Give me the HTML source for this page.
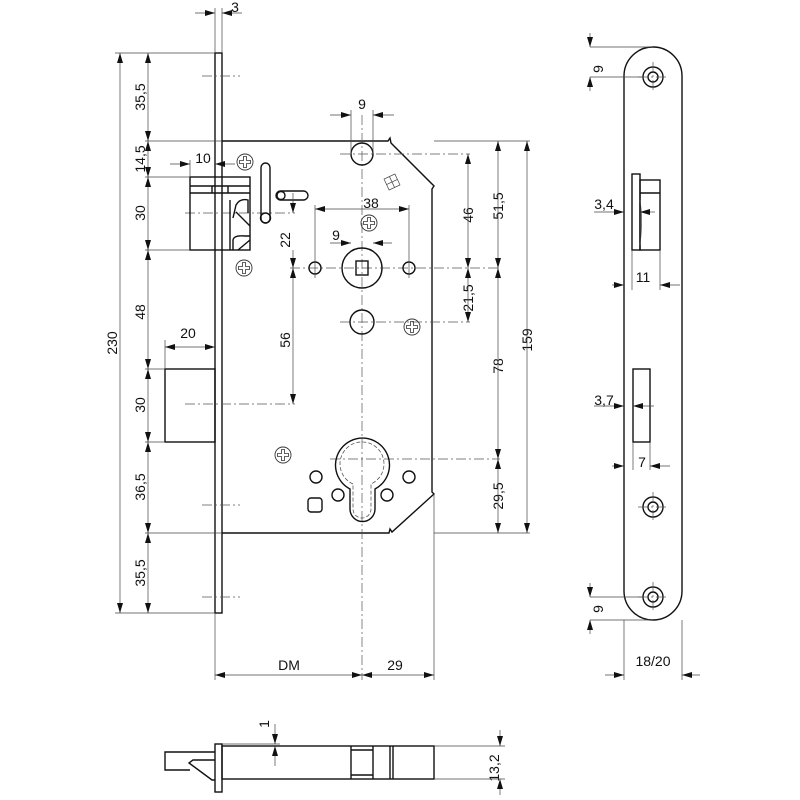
<!DOCTYPE html>
<html><head><meta charset="utf-8"><style>
html,body{margin:0;padding:0;background:#fff;width:800px;height:800px;overflow:hidden}
svg{display:block}
text{font-family:"Liberation Sans",sans-serif;font-size:14px;fill:#111}
.o{fill:none;stroke:#111;stroke-width:1.4}
.t{fill:none;stroke:#444;stroke-width:0.7}
.c{fill:none;stroke:#555;stroke-width:0.7;stroke-dasharray:10,3,2,3}
</style></head><body>
<svg width="800" height="800" viewBox="0 0 800 800">
<defs>
<marker id="a" viewBox="0 0 10 10" refX="10" refY="5" markerUnits="userSpaceOnUse" markerWidth="10" markerHeight="10" orient="auto-start-reverse"><path d="M0,2 L10,5 L0,8z" fill="#111"/></marker>
<g id="scr"><circle r="8" fill="none" stroke="#333" stroke-width="0.9"/><path d="M-1.5,-5.5h3v4h4v3h-4v4h-3v-4h-4v-3h4z" fill="none" stroke="#333" stroke-width="0.8"/></g>
</defs>

<rect x="215" y="53" width="7" height="560" class="o"/>
<path class="o" d="M222,141 H388 l2,-3 l1,5 L434,186 l-2,3 V492 l2,2 L392,532 l-2,-3 l-1,4 H222"/>
<line x1="362" y1="115" x2="362" y2="680" class="c"/>
<line x1="340" y1="154" x2="470" y2="154" class="c"/>
<line x1="290" y1="268" x2="500" y2="268" class="c"/>
<line x1="340" y1="322" x2="470" y2="322" class="c"/>
<line x1="330" y1="459" x2="500" y2="459" class="c"/>
<line x1="185" y1="404" x2="295" y2="404" class="c"/>
<line x1="185" y1="213" x2="295" y2="213" class="c"/>
<line x1="202" y1="76" x2="240" y2="76" class="c"/>
<line x1="202" y1="505" x2="240" y2="505" class="c"/>
<line x1="202" y1="597" x2="240" y2="597" class="c"/>

<rect x="190" y="177" width="60" height="73" class="o"/>
<line x1="190" y1="186" x2="250" y2="186" class="o"/>
<line x1="190" y1="193" x2="250" y2="193" class="o"/>
<line x1="212" y1="186" x2="212" y2="193" class="o"/>
<line x1="228" y1="186" x2="228" y2="193" class="o"/>
<line x1="230" y1="200" x2="230" y2="250" class="o"/>
<path class="o" d="M233,218 L236,205 Q240,198 248,200 V213 M236,212 L250,226"/>
<path class="o" d="M233,250 V240 Q234,235 245,236 L250,236 M238,250 L250,240"/>
<rect x="261" y="163" width="9" height="60" rx="4.5" class="o"/>
<circle cx="265.5" cy="218" r="5" class="o"/>
<rect x="276" y="191" width="32" height="9" rx="4.5" class="o"/>
<circle cx="281" cy="195.5" r="4" class="o"/>
<rect x="165" y="369" width="50" height="73" class="o"/>

<circle cx="362" cy="154" r="11" class="o"/>
<circle cx="362" cy="268" r="20" class="o"/>
<rect x="356" y="261" width="12" height="14" class="o"/>
<circle cx="315" cy="268" r="6" class="o"/>
<circle cx="409" cy="268" r="6" class="o"/>
<circle cx="362" cy="322" r="12" class="o"/>
<g transform="translate(392,182) rotate(-25)"><rect x="-6" y="-6" width="12" height="12" class="t"/><line x1="0" y1="-6" x2="0" y2="6" class="t"/><line x1="-6" y1="0" x2="6" y2="0" class="t"/></g>
<use href="#scr" x="245" y="162"/><use href="#scr" x="244" y="268"/><use href="#scr" x="369" y="223"/><use href="#scr" x="412" y="327"/><use href="#scr" x="283" y="455"/>
<path class="o" d="M350,489 A27,27 0 1 1 375,489 V509 A12.5,12.5 0 0 1 350,509 Z"/>
<path class="t" stroke-dasharray="4,2" d="M353,484 A22,22 0 1 1 371,484 V509 A9,9 0 0 1 353,509 Z"/>
<circle cx="316" cy="477" r="6" class="o"/><circle cx="409" cy="477" r="6" class="o"/>
<circle cx="338" cy="495" r="6" class="o"/><circle cx="387" cy="495" r="6" class="o"/>
<rect x="308" y="498" width="14" height="14" rx="3" class="o"/>

<g class="t">
<line x1="115" y1="53" x2="215" y2="53"/><line x1="115" y1="613" x2="215" y2="613"/>
<line x1="145" y1="141" x2="222" y2="141"/><line x1="145" y1="177" x2="190" y2="177"/>
<line x1="145" y1="250" x2="190" y2="250"/><line x1="145" y1="369" x2="165" y2="369"/>
<line x1="145" y1="442" x2="165" y2="442"/><line x1="145" y1="533" x2="222" y2="533"/>
</g>
<line x1="120" y1="53" x2="120" y2="613" class="t" marker-start="url(#a)" marker-end="url(#a)"/>
<g class="t" marker-start="url(#a)" marker-end="url(#a)">
<line x1="148" y1="53" x2="148" y2="141"/><line x1="148" y1="141" x2="148" y2="177"/>
<line x1="148" y1="177" x2="148" y2="250"/><line x1="148" y1="250" x2="148" y2="369"/>
<line x1="148" y1="369" x2="148" y2="442"/><line x1="148" y1="442" x2="148" y2="533"/>
<line x1="148" y1="533" x2="148" y2="613"/>
</g>
<g text-anchor="middle">
<text transform="translate(145,97) rotate(-90)">35,5</text>
<text transform="translate(145,159) rotate(-90)">14,5</text>
<text transform="translate(145,213) rotate(-90)">30</text>
<text transform="translate(145,312) rotate(-90)">48</text>
<text transform="translate(145,405) rotate(-90)">30</text>
<text transform="translate(145,487) rotate(-90)">36,5</text>
<text transform="translate(145,573) rotate(-90)">35,5</text>
<text transform="translate(117,343) rotate(-90)">230</text>
<text transform="translate(290,240) rotate(-90)">22</text>
<text transform="translate(290,340) rotate(-90)">56</text>
<text transform="translate(473,215) rotate(-90)">46</text>
<text transform="translate(503,206) rotate(-90)">51,5</text>
<text transform="translate(473,298) rotate(-90)">21,5</text>
<text transform="translate(503,366) rotate(-90)">78</text>
<text transform="translate(503,496) rotate(-90)">29,5</text>
<text transform="translate(532,340) rotate(-90)">159</text>
<text transform="translate(603,69) rotate(-90)">9</text>
<text transform="translate(603,609) rotate(-90)">9</text>
<text transform="translate(499,768) rotate(-90)">13,2</text>
<text transform="translate(269,724) rotate(-90)">1</text>
<text x="235" y="12">3</text>
<text x="203" y="163">10</text>
<text x="188" y="338">20</text>
<text x="362" y="109">9</text>
<text x="371" y="208">38</text>
<text x="336" y="240">9</text>
<text x="289" y="670">DM</text>
<text x="395" y="670">29</text>
<text x="604" y="209">3,4</text>
<text x="643" y="282">11</text>
<text x="604" y="405">3,7</text>
<text x="642" y="467">7</text>
<text x="653" y="666">18/20</text>
</g>
<line x1="215" y1="8" x2="215" y2="53" class="t"/><line x1="222" y1="8" x2="222" y2="53" class="t"/>
<line x1="195" y1="13" x2="215" y2="13" class="t" marker-end="url(#a)"/><line x1="242" y1="13" x2="222" y2="13" class="t" marker-end="url(#a)"/>
<line x1="190" y1="160" x2="190" y2="177" class="t"/>
<line x1="170" y1="164" x2="190" y2="164" class="t" marker-end="url(#a)"/><line x1="235" y1="164" x2="215" y2="164" class="t" marker-end="url(#a)"/>
<line x1="165" y1="340" x2="165" y2="369" class="t"/>
<line x1="165" y1="347" x2="215" y2="347" class="t" marker-start="url(#a)" marker-end="url(#a)"/>
<line x1="351" y1="110" x2="351" y2="154" class="t"/><line x1="373" y1="110" x2="373" y2="154" class="t"/>
<line x1="330" y1="115" x2="351" y2="115" class="t" marker-end="url(#a)"/><line x1="394" y1="115" x2="373" y2="115" class="t" marker-end="url(#a)"/>
<line x1="315" y1="205" x2="315" y2="278" class="t"/><line x1="409" y1="205" x2="409" y2="278" class="t"/>
<line x1="315" y1="209" x2="409" y2="209" class="t" marker-start="url(#a)" marker-end="url(#a)"/>
<line x1="330" y1="243" x2="351" y2="243" class="t" marker-end="url(#a)"/><line x1="392" y1="243" x2="373" y2="243" class="t" marker-end="url(#a)"/>
<line x1="293" y1="193" x2="293" y2="213" class="t" marker-end="url(#a)"/>
<line x1="293" y1="250" x2="293" y2="268" class="t" marker-end="url(#a)"/>
<line x1="293" y1="268" x2="293" y2="404" class="t" marker-start="url(#a)" marker-end="url(#a)"/>
<line x1="434" y1="141" x2="530" y2="141" class="t"/><line x1="434" y1="533" x2="530" y2="533" class="t"/>
<line x1="468" y1="154" x2="468" y2="268" class="t" marker-start="url(#a)" marker-end="url(#a)"/>
<line x1="468" y1="268" x2="468" y2="322" class="t" marker-start="url(#a)" marker-end="url(#a)"/>
<line x1="498" y1="141" x2="498" y2="268" class="t" marker-start="url(#a)" marker-end="url(#a)"/>
<line x1="498" y1="268" x2="498" y2="459" class="t" marker-start="url(#a)" marker-end="url(#a)"/>
<line x1="498" y1="459" x2="498" y2="533" class="t" marker-start="url(#a)" marker-end="url(#a)"/>
<line x1="527" y1="141" x2="527" y2="533" class="t" marker-start="url(#a)" marker-end="url(#a)"/>
<line x1="215" y1="613" x2="215" y2="680" class="t"/><line x1="434" y1="494" x2="434" y2="680" class="t"/>
<line x1="215" y1="675" x2="362" y2="675" class="t" marker-start="url(#a)" marker-end="url(#a)"/>
<line x1="362" y1="675" x2="434" y2="675" class="t" marker-start="url(#a)" marker-end="url(#a)"/>

<path class="o" d="M624,76 A29,29 0 0 1 682,76 V591 A29,29 0 0 1 624,591 Z"/>
<g class="o"><circle cx="653" cy="77" r="10"/><circle cx="653" cy="77" r="5"/>
<circle cx="653" cy="507" r="10"/><circle cx="653" cy="507" r="5"/>
<circle cx="653" cy="597" r="10"/><circle cx="653" cy="597" r="5"/></g>
<g class="c"><line x1="638" y1="77" x2="668" y2="77"/><line x1="653" y1="62" x2="653" y2="92"/>
<line x1="638" y1="507" x2="668" y2="507"/><line x1="653" y1="492" x2="653" y2="522"/>
<line x1="638" y1="597" x2="668" y2="597"/><line x1="653" y1="582" x2="653" y2="612"/></g>
<rect x="632" y="174" width="8" height="76" class="o"/>
<rect x="640" y="180" width="20" height="70" class="o"/>
<line x1="640" y1="193" x2="660" y2="193" class="o"/>
<path d="M640,200 Q643,220 640,245" class="t"/>
<rect x="633" y="369" width="17" height="73" class="o"/>
<g class="t">
<line x1="590" y1="47" x2="653" y2="47"/><line x1="590" y1="77" x2="643" y2="77"/>
<line x1="590" y1="33" x2="590" y2="47" marker-end="url(#a)"/><line x1="590" y1="91" x2="590" y2="77" marker-end="url(#a)"/>
<line x1="590" y1="597" x2="643" y2="597"/><line x1="590" y1="620" x2="653" y2="620"/>
<line x1="590" y1="583" x2="590" y2="597" marker-end="url(#a)"/><line x1="590" y1="634" x2="590" y2="620" marker-end="url(#a)"/>
<line x1="594" y1="212" x2="624" y2="212" marker-end="url(#a)"/><line x1="655" y1="212" x2="640" y2="212" marker-end="url(#a)"/>
<line x1="632" y1="250" x2="632" y2="290"/><line x1="660" y1="250" x2="660" y2="290"/>
<line x1="612" y1="285" x2="624" y2="285" marker-end="url(#a)"/><line x1="680" y1="285" x2="660" y2="285" marker-end="url(#a)"/>
<line x1="594" y1="406" x2="624" y2="406" marker-end="url(#a)"/><line x1="654" y1="406" x2="633" y2="406" marker-end="url(#a)"/>
<line x1="633" y1="442" x2="633" y2="470"/><line x1="650" y1="442" x2="650" y2="470"/>
<line x1="612" y1="466" x2="624" y2="466" marker-end="url(#a)"/><line x1="670" y1="466" x2="650" y2="466" marker-end="url(#a)"/>
<line x1="624" y1="620" x2="624" y2="680"/><line x1="682" y1="620" x2="682" y2="680"/>
<line x1="605" y1="675" x2="624" y2="675" marker-end="url(#a)"/><line x1="700" y1="675" x2="682" y2="675" marker-end="url(#a)"/>
</g>

<rect x="215" y="744" width="7" height="48" class="o"/>
<rect x="222" y="746" width="212" height="33" class="o"/>
<path class="o" d="M215,752 H165 V770 H190 M215,760 H193 L189,763 L212,780 H215"/>
<line x1="351" y1="746" x2="351" y2="779" class="o"/><line x1="373" y1="746" x2="373" y2="779" class="o"/>
<line x1="351" y1="750" x2="373" y2="750" class="o"/><line x1="351" y1="775" x2="373" y2="775" class="o"/>
<line x1="390" y1="746" x2="390" y2="779" class="o"/><line x1="393" y1="746" x2="393" y2="779" class="o"/>
<g class="t">
<line x1="222" y1="744" x2="280" y2="744"/>
<line x1="275" y1="724" x2="275" y2="744" marker-end="url(#a)"/><line x1="275" y1="766" x2="275" y2="746" marker-end="url(#a)"/>
<line x1="434" y1="746" x2="505" y2="746"/><line x1="434" y1="779" x2="505" y2="779"/>
<line x1="500" y1="730" x2="500" y2="746" marker-end="url(#a)"/><line x1="500" y1="795" x2="500" y2="779" marker-end="url(#a)"/>
</g>
</svg>
</body></html>
